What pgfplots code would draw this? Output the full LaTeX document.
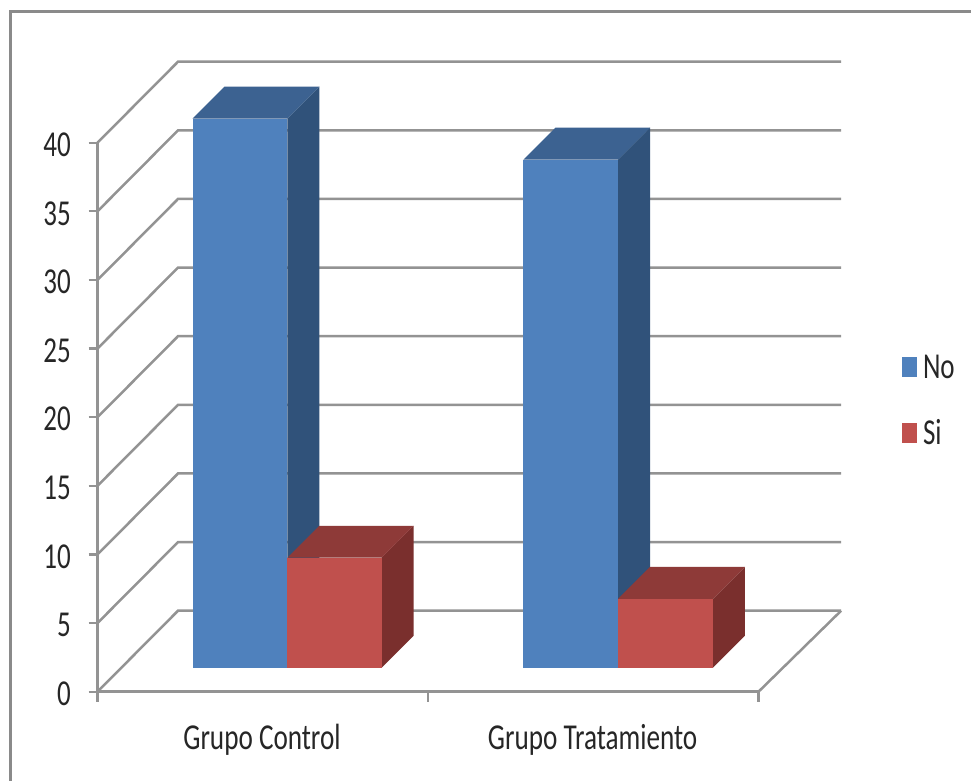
\documentclass[border=0pt]{standalone}
\usepackage{pgfplots}
\usepackage{fontspec}
\pgfplotsset{compat=1.18}
\setmainfont{Carlito}
\definecolor{wallgray}{HTML}{939393}
\definecolor{framegray}{HTML}{8A8A8A}
\definecolor{inkdark}{HTML}{262626}
\definecolor{noFront}{HTML}{4F81BD}
\definecolor{noTop}{HTML}{3C6291}
\definecolor{noSide}{HTML}{30527A}
\definecolor{siFront}{HTML}{C0504D}
\definecolor{siTop}{HTML}{8E3A38}
\definecolor{siSide}{HTML}{7A2F2D}

% Oblique depth of the bars and of the chart walls, in axis units
\newcommand{\barDepthX}{0.0968}
\newcommand{\barDepthY}{2.33}
\newcommand{\barBase}{1.76}
\newcommand{\wallDepthX}{0.2436}
\newcommand{\wallDepthY}{5.9}

% Three visible faces of one bar: left, right, value, and the three fills
\newcommand{\boxbar}[6]{%
  \pgfmathsetmacro\yFront{\barBase+#3}%
  \pgfmathsetmacro\xBackL{#1+\barDepthX}%
  \pgfmathsetmacro\xBackR{#2+\barDepthX}%
  \pgfmathsetmacro\yBackTop{\yFront+\barDepthY}%
  \pgfmathsetmacro\yBackBase{\barBase+\barDepthY}%
  \edef\drawfaces{%
    \noexpand\addplot[fill=#6,draw=none,forget plot] coordinates {(#2,\barBase)(\xBackR,\yBackBase)(\xBackR,\yBackTop)(#2,\yFront)} --cycle;
    \noexpand\addplot[fill=#5,draw=none,forget plot] coordinates {(#1,\yFront)(#2,\yFront)(\xBackR,\yBackTop)(\xBackL,\yBackTop)} --cycle;
    \noexpand\addplot[fill=#4,draw=none,forget plot] coordinates {(#1,\barBase)(#2,\barBase)(#2,\yFront)(#1,\yFront)} --cycle;
  }%
  \drawfaces
}

\begin{document}
\begin{tikzpicture}[x=1pt,y=1pt]
  \useasboundingbox (0,0) rectangle (971,781);
  \fill[white] (0,0) rectangle (971,781);
  \draw[framegray,line width=3pt] (10.5,0) -- (10.5,769.5) -- (971,769.5);
  \begin{axis}[
    at={(97.5pt,89.3pt)}, anchor=origin,
    scale only axis, width=661pt, height=549pt,
    xmin=0, xmax=2, ymin=0, ymax=40,
    clip=false,
    axis x line=bottom, axis y line=left,
    axis line style={-,draw=wallgray,line width=2.5pt},
    tick style={draw=wallgray,line width=2.2pt},
    ytick={0,5,...,40},
    tick align=outside,
    ytick style={/pgfplots/major tick length=9pt},
    xtick={0.4977,1.498},
    xticklabels={\scalebox{0.745}[1]{Grupo Control},\scalebox{0.745}[1]{Grupo Tratamiento}},
    major x tick style={/pgfplots/major tick length=0pt,draw=none},
    minor xtick={0,1,2},
    minor tick length=10pt,
    xticklabel style={inkdark,yshift=-25pt},
    yticklabel={\scalebox{0.74}[1]{\pgfmathprintnumber{\tick}}},
    /pgf/number format/assume math mode=true,
    yticklabel style={inkdark,xshift=-19pt,yshift=-2pt},
    tick label style={font=\fontsize{36.5}{38}\selectfont},
    legend image code/.code={\fill[#1] (0pt,-10pt) rectangle (15pt,10pt);},
    legend cell align=left,
    legend style={
      draw=none, fill=none, inner sep=0pt, outer sep=0pt,
      at={(804.5pt,291pt)}, anchor=west,
      row sep=40pt,
      font=\fontsize{36.5}{38}\selectfont,
      text=inkdark,
      nodes={inner sep=0pt},
    },
  ]
    % Side and back walls: one bent line per tick value
    \pgfplotsinvokeforeach{0,5,10,15,20,25,30,35,40}{%
      \pgfmathsetmacro\yBack{#1+\wallDepthY}%
      \edef\wallline{\noexpand\addplot[wallgray,line width=2.5pt,forget plot] coordinates {(0,#1)(\wallDepthX,\yBack)(2.25,\yBack)};}%
      \wallline
    }
    % Right edge of the floor
    \addplot[wallgray,line width=2.5pt,forget plot] coordinates {(2,0)(2.25,5.9)};

    % Grupo Control
    \boxbar{0.288}{0.5743}{40}{noFront}{noTop}{noSide}
    \boxbar{0.5743}{0.860}{8}{siFront}{siTop}{siSide}
    % Grupo Tratamiento
    \boxbar{1.2884}{1.5749}{37}{noFront}{noTop}{noSide}
    \boxbar{1.5749}{1.8623}{5}{siFront}{siTop}{siSide}

    \addlegendimage{fill=noFront,draw=none}
    \addlegendentry{\hspace{6pt}\scalebox{0.74}[1]{No}}
    \addlegendimage{fill=siFront,draw=none}
    \addlegendentry{\hspace{6pt}\scalebox{0.74}[1]{Si}}
  \end{axis}
\end{tikzpicture}
\end{document}
